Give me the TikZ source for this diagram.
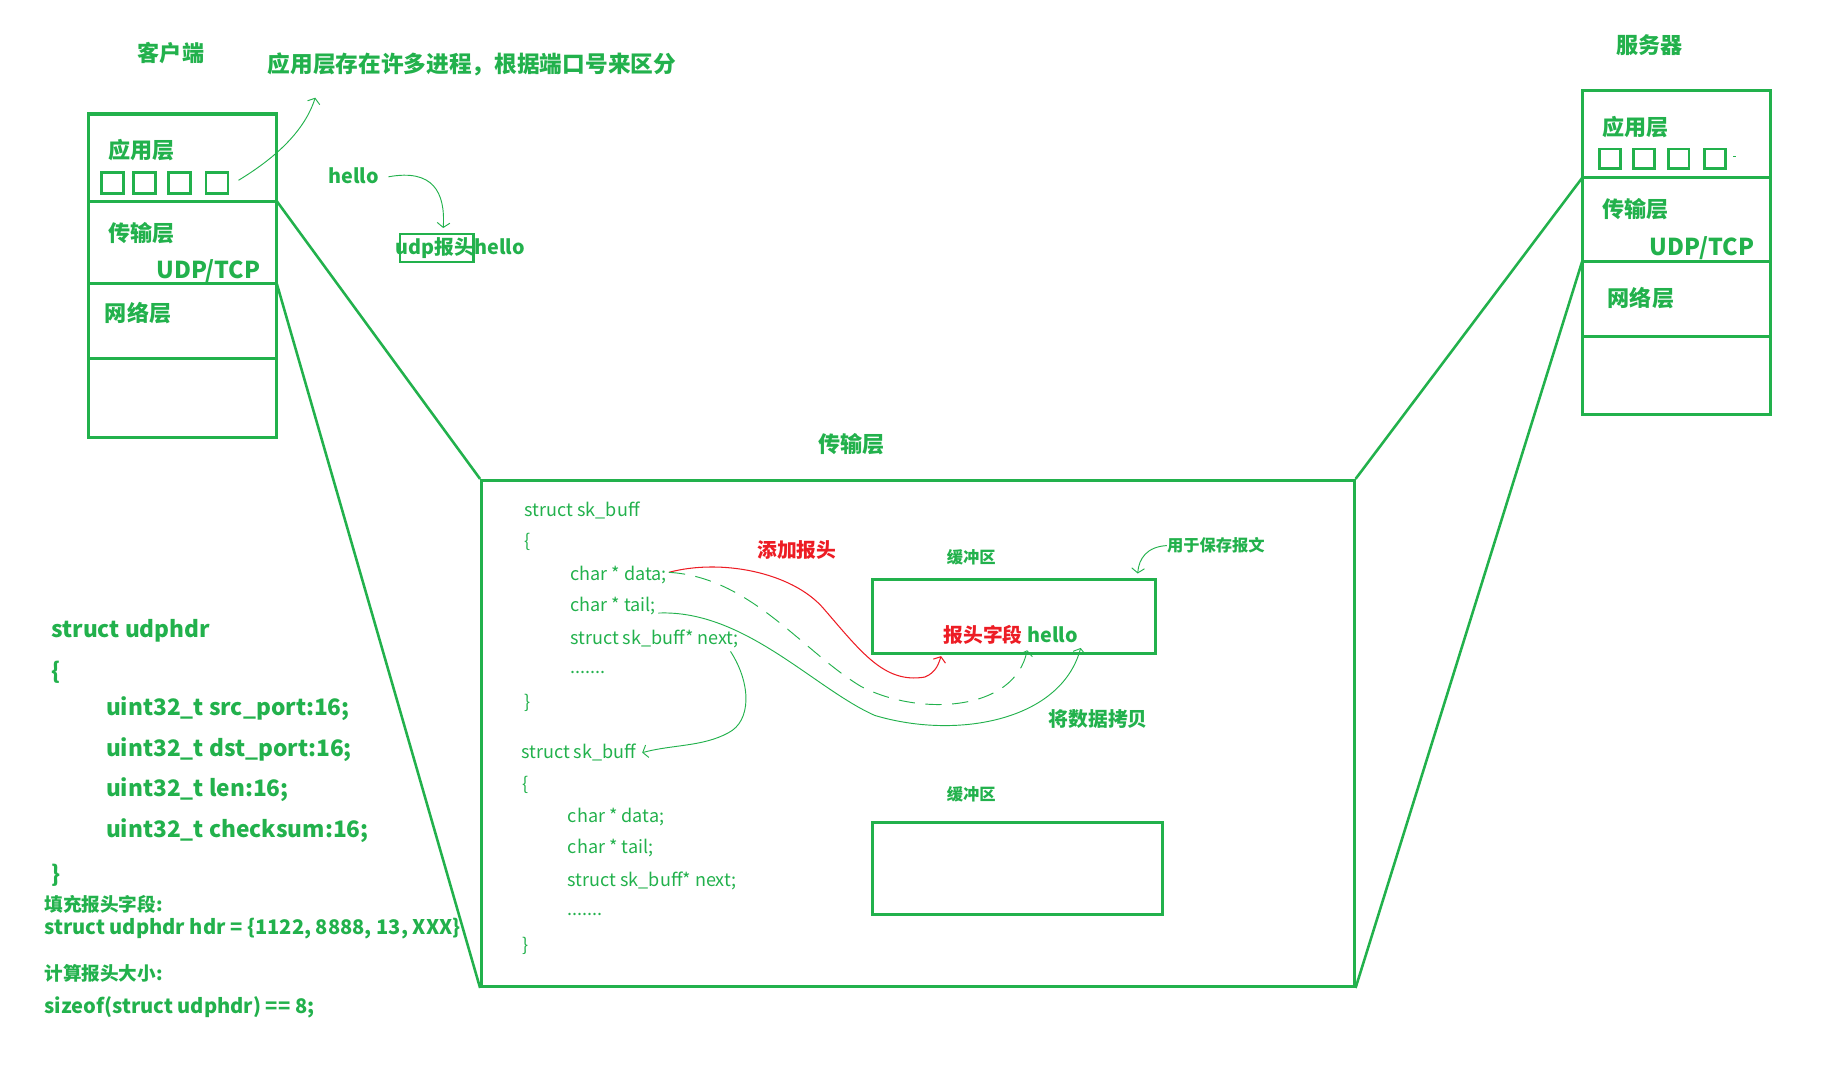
\documentclass[tikz,border=0pt]{standalone}
\usepackage{fontspec}
\setmainfont{Noto Sans CJK SC}
\usetikzlibrary{arrows.meta}
\definecolor{pg}{RGB}{34,177,76}
\definecolor{pr}{RGB}{237,28,36}
\begin{document}
\begin{tikzpicture}[x=1pt,y=-1pt,
  gt/.style={text=pg, inner sep=0pt, font=\bfseries\fontsize{#1pt}{#1pt}\selectfont},
  rt/.style={text=pr, inner sep=0pt, font=\bfseries\fontsize{#1pt}{#1pt}\selectfont},
  ct/.style={text=pg, inner sep=0pt, anchor=west, font=\fontsize{#1pt}{#1pt}\selectfont},
  boxline/.style={draw=pg, line width=2.6pt},
  sqbox/.style={draw=pg, line width=2.4pt},
  conn/.style={draw=pg, line width=2.2pt},
  harr/.style={draw=pg, line width=0.8pt, -{Straight Barb[length=4pt,width=11pt]}},
  rarr/.style={draw=pr, line width=0.9pt, -{Straight Barb[length=4pt,width=11pt]}}]
\useasboundingbox (0,0) rectangle (1568,938);

% ---------- titles
\node[gt=19] (client) at (147,46) {客户端};
\node[gt=19] (server) at (1418,39) {服务器};
\node[gt=19.5, anchor=west] (note) at (230,55) {应用层存在许多进程，根据端口号来区分};

% ---------- client stack
\draw[boxline] (76,98) rectangle (238,376);
\draw[boxline] (76,173) -- (238,173);
\draw[boxline] (76,244) -- (238,244);
\draw[boxline] (76,308) -- (238,308);
\node[gt=19, anchor=west] (capp) at (93,129) {应用层};
\foreach \x in {87,115,145,177}
  \draw[sqbox] (\x,148) rectangle ++(19,18);
\node[gt=19, anchor=west] (ctrans) at (93,200) {传输层};
\node[gt=20, anchor=east] (cudp) at (224,233) {UDP/TCP};
\node[gt=19, anchor=west] (cnet) at (90,269) {网络层};
\coordinate (cproc) at (205,155);
\coordinate (cT) at (238,173);
\coordinate (cN) at (238,244);

% ---------- server stack
\draw[boxline] (1360,78) rectangle (1522,356);
\draw[boxline] (1360,153) -- (1522,153);
\draw[boxline] (1360,225) -- (1522,225);
\draw[boxline] (1360,289) -- (1522,289);
\node[gt=19, anchor=west] (sapp) at (1377,109) {应用层};
\foreach \x in {1375,1404,1434,1465}
  \draw[sqbox] (\x,128) rectangle ++(18,17);
\draw[pg, line width=0.6pt] (1490,134) -- (1492,134);
\node[gt=19, anchor=west] (strans) at (1377,180) {传输层};
\node[gt=20, anchor=east] (sudp) at (1508,213) {UDP/TCP};
\node[gt=19, anchor=west] (snet) at (1382,256) {网络层};
\coordinate (sT) at (1360,153);
\coordinate (sN) at (1360,225);

% ---------- hello -> udp header
\node[gt=17] (hello) at (304,151) {hello};
\node[gt=17, anchor=west] (udphd) at (340,213) {udp报头hello};
\draw[sqbox, line width=2pt] (344,201) rectangle (407,225);
\coordinate (hdtop) at (381,196);
\draw[harr] (hello.east) ++(8,1) .. controls (372,145) and (383,165) .. (hdtop);
\coordinate (notept) at (271,84);
\draw[harr] (cproc) .. controls (238,135) and (262,112) .. (notept);

% ---------- central transport box
\node[draw=pg, line width=2.6pt, minimum width=750pt, minimum height=435pt, inner sep=0pt] (tb) at (789,630.5) {};
\node[gt=19] (tbt) at (732,382) {传输层};
\draw[conn] (cT) -- (tb.north west);
\draw[conn] (cN) -- (tb.south west);
\draw[conn] (sT) -- (tb.north east);
\draw[conn] (sN) -- (tb.south east);

% first sk_buff
\node[ct=15.5] (s1) at (451,439) {struct sk\_buff};
\node[ct=15.5] (b1) at (451,466) {\{};
\node[ct=15.5] (d1) at (490,494) {char * data;};
\node[ct=15.5] (t1) at (490,521) {char * tail;};
\node[ct=15.5] (n1) at (490,549) {struct sk\_buff* next;};
\node[ct=15.5] (e1) at (490,578) {.......};
\node[ct=15.5] (c1) at (451,604) {\}};
% second sk_buff
\node[ct=15.5] (s2) at (448,647) {struct sk\_buff};
\node[ct=15.5] (b2) at (449,675) {\{};
\node[ct=15.5] (d2) at (488,702) {char * data;};
\node[ct=15.5] (t2) at (488,729) {char * tail;};
\node[ct=15.5] (n2) at (488,757) {struct sk\_buff* next;};
\node[ct=15.5] (e2) at (488,786) {.......};
\node[ct=15.5] (c2) at (449,813) {\}};

% buffers
\node[gt=14] (bl1) at (835,479) {缓冲区};
\draw[boxline] (750,498) rectangle (993,562);
\node[gt=14] (bl2) at (835,683) {缓冲区};
\draw[boxline] (750,707) rectangle (999,786);
\node[gt=14, anchor=west] (keep) at (1003,469) {用于保存报文};
\draw[harr] (keep.west) .. controls (986,470) and (979,480) .. (978,493);

\node[rt=17] (addh) at (685,473) {添加报头};
\node[rt=17, anchor=west] (hf) at (811,546) {报头字段};
\node[gt=17, anchor=west] (hh) at (883,546) {hello};
\node[gt=17] (copy) at (944,618) {将数据拷贝};

\coordinate (dE) at (575,492);
\coordinate (tE) at (566,527);
\coordinate (nE) at (628,560);
\coordinate (hfp) at (809,564);
\coordinate (hfd) at (883,559);
\coordinate (hhp) at (929,557);
\draw[rarr] (dE) .. controls (620,480) and (680,492) .. (707,522)
  .. controls (740,560) and (760,588) .. (795,582)
  .. controls (805,578) and (807,570) .. (hfp);
\draw[harr, dash pattern=on 14pt off 9pt] (dE) .. controls (645,496) and (690,560) .. (740,590)
  .. controls (790,616) and (872,612) .. (hfd);
\draw[harr] (tE) .. controls (640,524) and (700,592) .. (752,615)
  .. controls (822,636) and (912,620) .. (hhp);
\draw[harr] (nE) .. controls (646,588) and (646,620) .. (626,630)
  .. controls (604,642) and (578,640) .. ([xshift=5pt]s2.east);

% ---------- udphdr code
\node[gt=19.5, anchor=west] (u0) at (44,542) {struct udphdr};
\node[gt=19.5, anchor=west] (u1) at (44,578) {\{};
\node[gt=19.5, anchor=west] (u2) at (91,609) {uint32\_t src\_port:16;};
\node[gt=19.5, anchor=west] (u3) at (91,644) {uint32\_t dst\_port:16;};
\node[gt=19.5, anchor=west] (u4) at (91,679) {uint32\_t len:16;};
\node[gt=19.5, anchor=west] (u5) at (91,714) {uint32\_t checksum:16;};
\node[gt=19.5, anchor=west] (u6) at (44,752) {\}};
\node[gt=16, anchor=west] (f0) at (38,777) {填充报头字段:};
\node[gt=17.3, anchor=west] (f1) at (38,798) {struct udphdr hdr = \{1122, 8888, 13, XXX\}};
\node[gt=16, anchor=west] (f2) at (38,837) {计算报头大小:};
\node[gt=17.3, anchor=west] (f3) at (38,866) {sizeof(struct udphdr) == 8;};
\end{tikzpicture}
\end{document}
